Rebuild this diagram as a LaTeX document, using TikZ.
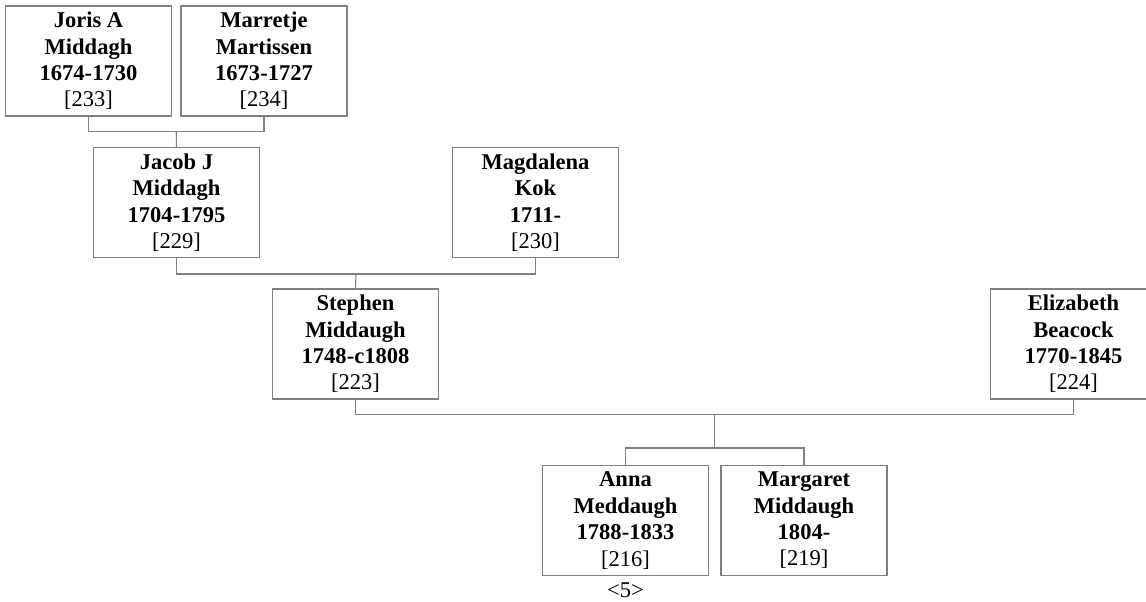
\documentclass[tikz,border=0pt]{standalone}
\usepackage{fontspec}
\setmainfont{Liberation Serif}
\usetikzlibrary{calc}
\definecolor{boxgray}{HTML}{808080}
\begin{document}
\begin{tikzpicture}[x=0.75pt,y=-0.75pt,
  person/.style={draw=boxgray, line width=0.8pt, fill=white, minimum width=124.5pt, minimum height=82.5pt,
    inner sep=0pt, align=center, font=\fontsize{16.9}{19.8}\selectfont},
  conn/.style={draw=boxgray, line width=0.8pt}]
\useasboundingbox (0,0) rectangle (1146,602);
\node[person] (joris) at (88.5,61) {\textbf{Joris A}\\\textbf{Middagh}\\\textbf{1674-1730}\\{[233]}};
\node[person] (marretje) at (264,61) {\textbf{Marretje}\\\textbf{Martissen}\\\textbf{1673-1727}\\{[234]}};
\node[person] (jacob) at (176.5,202.5) {\textbf{Jacob J}\\\textbf{Middagh}\\\textbf{1704-1795}\\{[229]}};
\node[person] (magda) at (535.5,202.5) {\textbf{Magdalena}\\\textbf{Kok}\\\textbf{1711-}\\{[230]}};
\node[person] (steph) at (355.5,344) {\textbf{Stephen}\\\textbf{Middaugh}\\\textbf{1748-c1808}\\{[223]}};
\node[person] (eliz) at (1073.5,344) {\textbf{Elizabeth}\\\textbf{Beacock}\\\textbf{1770-1845}\\{[224]}};
\node[person] (anna) at (625.5,520.5) {\textbf{Anna}\\\textbf{Meddaugh}\\\textbf{1788-1833}\\{[216]}};
\node[person] (marg) at (804,520.5) {\textbf{Margaret}\\\textbf{Middaugh}\\\textbf{1804-}\\{[219]}};
\node[font=\fontsize{16.9}{19.8}\selectfont, inner sep=0pt] (gen) at (625.5,590) {<5>};
% couple 1
\coordinate (c1) at ($(joris.south)!0.5!(marretje.south)+(0,15)$);
\draw[conn] (joris.south) |- (c1) -| (marretje.south);
\draw[conn] (c1) -- (jacob.north);
% couple 2
\coordinate (c2) at ($(jacob.south)!0.5!(magda.south)+(0,16)$);
\draw[conn] (jacob.south) |- (c2) -| (magda.south);
\draw[conn] (c2) -- (steph.north);
% couple 3
\coordinate (c3) at ($(steph.south)!0.5!(eliz.south)+(0,15)$);
\draw[conn] (steph.south) |- (c3) -| (eliz.south);
\coordinate (c4) at ($(anna.north)!0.5!(marg.north)+(0,-17)$);
\draw[conn] (c3) -- (c3 |- c4);
\draw[conn] (anna.north) |- (c4) -| (marg.north);
\end{tikzpicture}
\end{document}
